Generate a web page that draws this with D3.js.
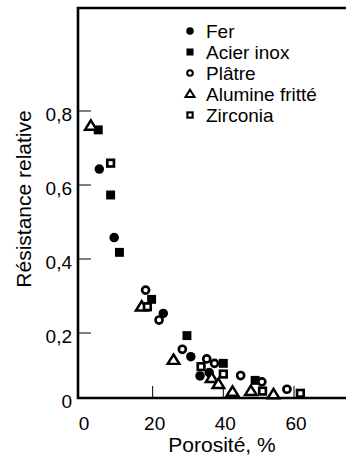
<!DOCTYPE html>
<html><head><meta charset="utf-8">
<script src="https://cdn.jsdelivr.net/npm/d3@7/dist/d3.min.js"></script>
<style>html,body{margin:0;padding:0;background:#fff;}svg{display:block;}</style>
</head><body>
<svg id="chart" width="346" height="457"></svg>
<script>
// ---- data ----
const seriesNames = ["Fer", "Acier inox", "Plâtre", "Alumine fritté", "Zirconia"];
const ferX = [4.9, 9.1, 23.0, 30.8, 33.4, 36.0];
const ferY = [0.643, 0.458, 0.253, 0.136, 0.084, 0.093];
const acierX = [4.6, 8.1, 10.6, 19.7, 29.7, 40.0, 49.0];
const acierY = [0.749, 0.573, 0.418, 0.291, 0.193, 0.118, 0.072];
const platreX = [18.0, 21.8, 28.4, 35.3, 37.5, 44.9, 50.9, 58.0];
const platreY = [0.316, 0.235, 0.156, 0.130, 0.118, 0.085, 0.068, 0.048];
const alumineX = [2.5, 16.9, 25.9, 36.7, 38.6, 42.6, 47.8, 54.2];
const alumineY = [0.76, 0.271, 0.127, 0.078, 0.062, 0.041, 0.043, 0.034];
const zircX = [8.1, 18.5, 33.7, 40.0, 51.1, 61.8];
const zircY = [0.659, 0.271, 0.109, 0.089, 0.043, 0.037];
const xTicks = [0, 20, 40, 60];
const yTicks = [0, 0.2, 0.4, 0.6, 0.8];
const yTickLabels = ["0", "0,2", "0,4", "0,6", "0,8"];

(function () {
const svg = d3.select("#chart");
const font = "'Liberation Sans', Arial, sans-serif";
const mLeft = 78, mTop = 8, mBottom = 398, mRight = 346;
const x = d3.scaleLinear().domain([0, 60]).range([82, 294]);
const y = d3.scaleLinear().domain([0, 0.8]).range([407, 111]);

// frame
svg.append("path").attr("d", `M${mRight},${mTop}H${mLeft}V${mBottom}H${mRight}`)
  .attr("stroke", "#000").attr("stroke-width", 2.6).attr("fill", "none").attr("stroke-linejoin", "miter");

// ticks
svg.append("g").selectAll("line").data(xTicks.filter(d => d > 0)).join("line")
  .attr("x1", d => x(d)).attr("x2", d => x(d)).attr("y1", mBottom).attr("y2", mBottom - 12)
  .attr("stroke", "#000").attr("stroke-width", 1);
svg.append("g").selectAll("line").data(yTicks.filter(d => d > 0)).join("line")
  .attr("x1", mLeft).attr("x2", mLeft + 13).attr("y1", d => y(d)).attr("y2", d => y(d))
  .attr("stroke", "#000").attr("stroke-width", 1);

// tick labels
svg.append("g").selectAll("text").data(xTicks).join("text")
  .attr("x", d => x(d) + 2).attr("y", 430).attr("text-anchor", "middle")
  .attr("font-family", font).attr("font-size", 19).text(d => d);
svg.append("g").selectAll("text").data(yTicks).join("text")
  .attr("x", 72).attr("y", d => (d === 0 ? mBottom + 3 : y(d) + 3) + 7).attr("text-anchor", "end")
  .attr("font-family", font).attr("font-size", 19).text((d, i) => yTickLabels[i]);

// axis titles
svg.append("text").attr("x", 222).attr("y", 452).attr("text-anchor", "middle")
  .attr("font-family", font).attr("font-size", 21).text("Porosité, %");
svg.append("text").attr("transform", "translate(31,199) rotate(-90)").attr("text-anchor", "middle")
  .attr("font-family", font).attr("font-size", 21).text("Résistance relative");

function drawMarker(g, type, s) {
  if (type === 0) {
    g.append("circle").attr("r", s * 0.5).attr("fill", "#000");
  } else if (type === 1) {
    g.append("rect").attr("x", -s * 0.47).attr("y", -s * 0.47).attr("width", s * 0.94).attr("height", s * 0.94).attr("fill", "#000");
  } else if (type === 2) {
    g.append("circle").attr("r", s * 0.37).attr("fill", "#fff").attr("stroke", "#000").attr("stroke-width", s * 0.28);
  } else if (type === 3) {
    const h = s * 0.58;
    g.append("path").attr("d", `M0,${-h}L${h * 1.05},${h * 0.7}L${-h * 1.05},${h * 0.7}Z`)
      .attr("fill", "#fff").attr("stroke", "#000").attr("stroke-width", s * 0.26).attr("stroke-linejoin", "miter");
  } else {
    const a = s * 0.35;
    g.append("rect").attr("x", -a).attr("y", -a).attr("width", 2 * a).attr("height", 2 * a)
      .attr("fill", "#fff").attr("stroke", "#000").attr("stroke-width", s * 0.28);
  }
}

const allX = [ferX, acierX, platreX, alumineX, zircX];
const allY = [ferY, acierY, platreY, alumineY, zircY];
const pts = svg.append("g");
allX.forEach((xs, si) => {
  xs.forEach((v, i) => {
    const g = pts.append("g").attr("transform", `translate(${x(v)},${y(allY[si][i])})`);
    drawMarker(g, si, 9.5);
  });
});

const leg = svg.append("g");
seriesNames.forEach((n, i) => {
  const cy = 31 + i * 21;
  const g = leg.append("g").attr("transform", `translate(190,${cy})`);
  drawMarker(g, i, 7.5);
  leg.append("text").attr("x", 206).attr("y", cy + 7).attr("font-family", font).attr("font-size", 19).text(n);
});
})();
</script>
</body></html>
